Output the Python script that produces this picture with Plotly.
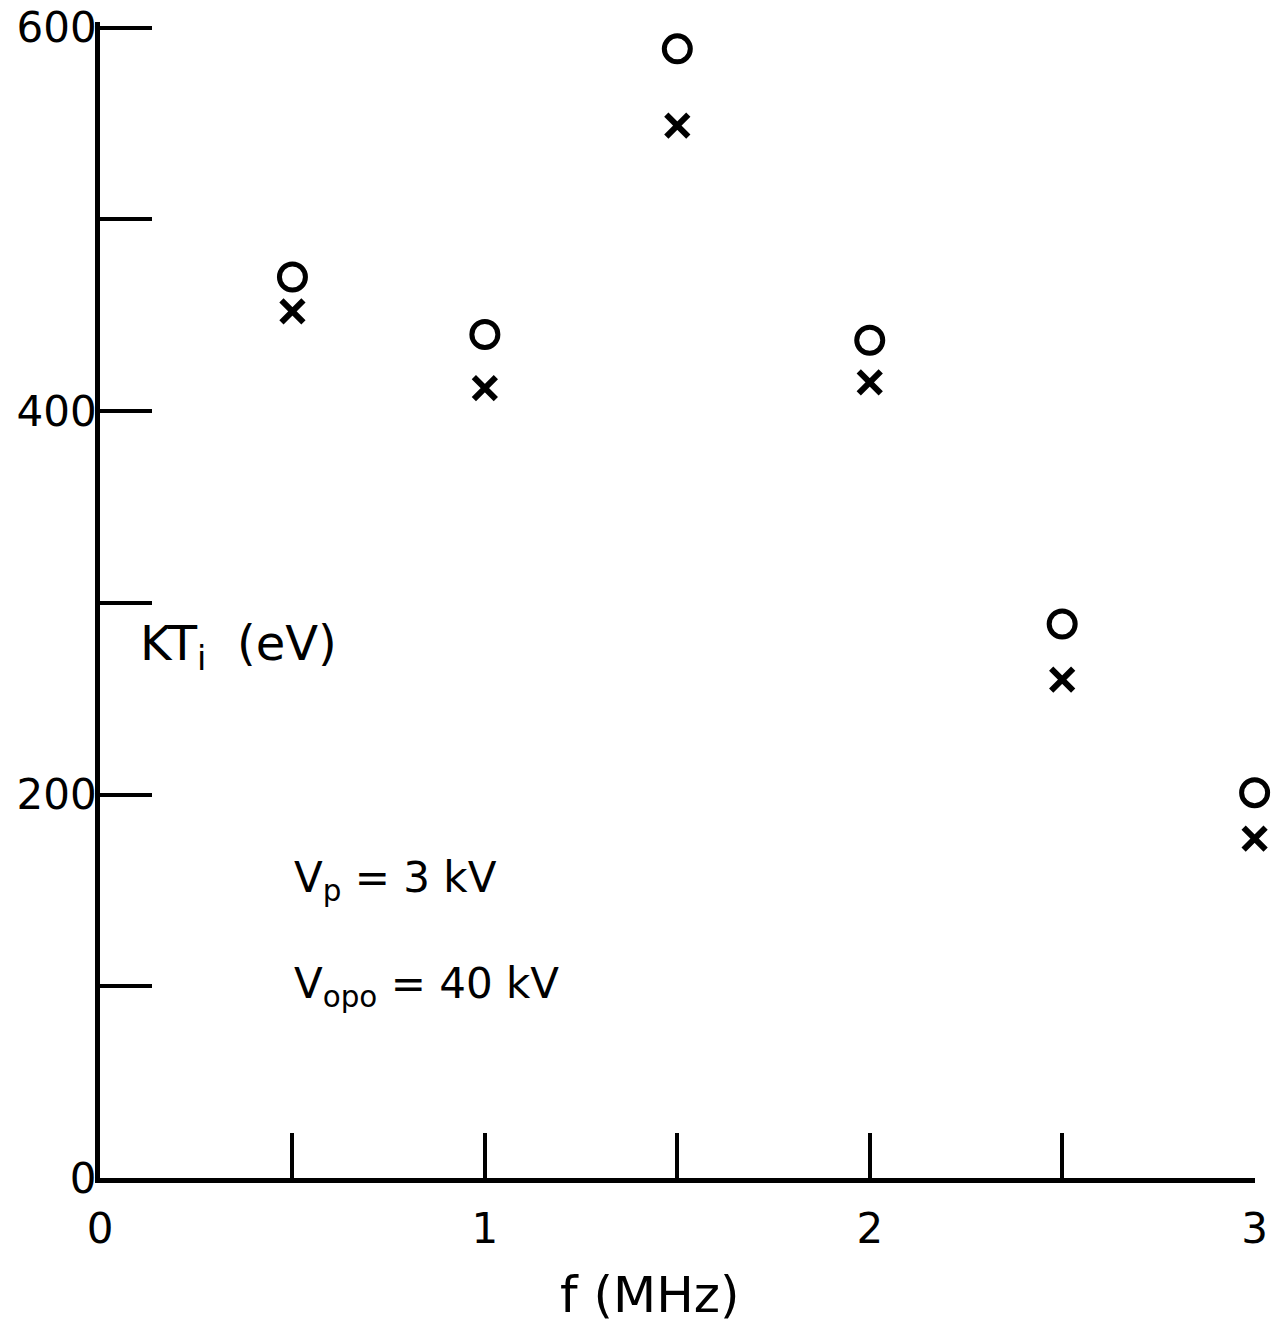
import plotly.graph_objects as go

freq = [0.5, 1.0, 1.5, 2.0, 2.5, 3.0]
kti_o = [470, 440, 589, 437, 289, 201]
kti_x = [452, 412, 549, 415, 260, 177]

x_tickvals = [0, 0.5, 1, 1.5, 2, 2.5, 3]
x_ticktext = ["0", "", "1", "", "2", "", "3"]
y_tickvals = [0, 100, 200, 300, 400, 500, 600]
y_ticktext = ["0", "", "200", "", "400", "", "600"]

FONT = "DejaVu Sans"

fig = go.Figure()
fig.add_trace(go.Scatter(
    x=freq, y=kti_o, mode="markers", name="o",
    marker=dict(symbol="circle-open", size=26, color="black", line=dict(width=5)),
    cliponaxis=False,
))
fig.add_trace(go.Scatter(
    x=freq, y=kti_x, mode="markers", name="x",
    marker=dict(symbol="x-thin-open", size=22, color="black", line=dict(width=6)),
    cliponaxis=False,
))

fig.add_annotation(x=0.1, y=300, xref="x", yref="y", text="KT<sub>i</sub>  (eV)",
                   showarrow=False, xanchor="left", yanchor="top", yshift=-10,
                   font=dict(family=FONT, size=48, color="black"))
fig.add_annotation(x=0.5, y=155, xref="x", yref="y", text="V<sub>p</sub> = 3 kV",
                   showarrow=False, xanchor="left", yanchor="middle",
                   font=dict(family=FONT, size=42, color="black"))
fig.add_annotation(x=0.5, y=100, xref="x", yref="y", text="V<sub>opo</sub> = 40 kV",
                   showarrow=False, xanchor="left", yanchor="middle",
                   font=dict(family=FONT, size=42, color="black"))
fig.add_annotation(x=1.43, y=0, xref="x", yref="paper", text="f (MHz)",
                   showarrow=False, xanchor="center", yanchor="middle", yshift=-117,
                   font=dict(family=FONT, size=50, color="black"))

fig.update_layout(
    width=1275, height=1318,
    margin=dict(l=92, r=28, t=14, b=148),
    paper_bgcolor="white", plot_bgcolor="white",
    showlegend=False,
    font=dict(family=FONT, color="black"),
    xaxis=dict(
        range=[0, 3.001], showgrid=False, zeroline=False, automargin=False,
        showline=True, linecolor="black", linewidth=5,
        ticks="inside", ticklen=45, tickwidth=4, tickcolor="black",
        tickvals=x_tickvals, ticktext=x_ticktext,
        tickfont=dict(family=FONT, size=42, color="black"),
        ticklabelstandoff=10, ticklabeloverflow="allow",
    ),
    yaxis=dict(
        range=[0, 603], showgrid=False, zeroline=False, automargin=False,
        showline=True, linecolor="black", linewidth=5,
        ticks="inside", ticklen=52, tickwidth=4, tickcolor="black",
        tickvals=y_tickvals, ticktext=y_ticktext,
        tickfont=dict(family=FONT, size=42, color="black"),
        ticklabelstandoff=-10, ticklabeloverflow="allow",
    ),
)

fig.write_html("out.html")
